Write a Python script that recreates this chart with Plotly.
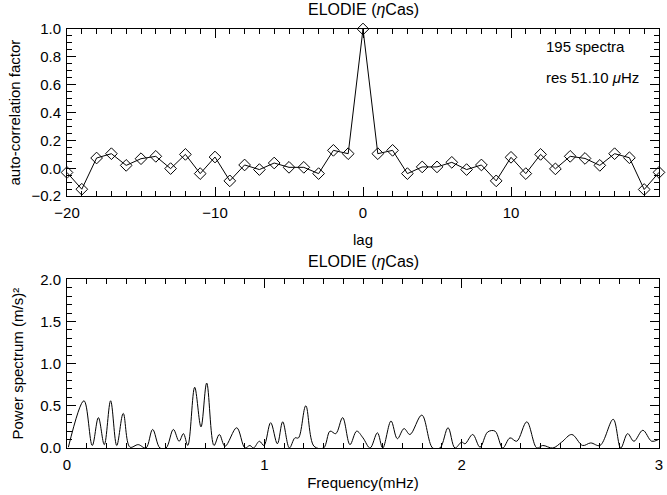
import plotly.graph_objects as go

# ---- Data: auto-correlation ----
lags = list(range(-20, 21))
acf = [-0.03, -0.15, 0.074, 0.105, 0.021, 0.069, 0.086, -0.002, 0.10, -0.038,
       0.081, -0.09, 0.024, -0.009, 0.038, 0.007, 0.007, -0.038, 0.129, 0.105,
       1.0,
       0.105, 0.129, -0.038, 0.01, 0.01, 0.043, -0.009, 0.024, -0.09, 0.079,
       -0.038, 0.10, -0.004, 0.086, 0.071, 0.021, 0.105, 0.076, -0.152, -0.029]

# ---- Data: power spectrum (peaks and troughs) ----
freq = [0.007, 0.086, 0.128, 0.159, 0.189, 0.221, 0.252, 0.285, 0.319, 0.361,
        0.40, 0.434, 0.471, 0.502, 0.539, 0.568, 0.59, 0.612, 0.647, 0.679,
        0.708, 0.745, 0.772, 0.801, 0.86, 0.902, 0.927, 0.945, 0.975, 0.998,
        1.032, 1.066, 1.093, 1.127, 1.155, 1.173, 1.21, 1.252, 1.30, 1.333,
        1.362, 1.397, 1.434, 1.468, 1.50, 1.536, 1.573, 1.60, 1.642, 1.674,
        1.708, 1.738, 1.798, 1.853, 1.89, 1.931, 1.966, 2.0, 2.017, 2.056,
        2.093, 2.132, 2.169, 2.208, 2.245, 2.279, 2.33, 2.381, 2.411, 2.462,
        2.507, 2.558, 2.613, 2.654, 2.701, 2.768, 2.806, 2.841, 2.873, 2.918,
        2.963, 2.997]
power = [0.01, 0.56, 0.03, 0.36, 0.04, 0.56, 0.03, 0.41, 0.01, 0.04,
         0.0, 0.22, 0.0, 0.0, 0.22, 0.08, 0.17, 0.03, 0.72, 0.25,
         0.77, 0.03, 0.16, 0.02, 0.24, 0.0, 0.03, 0.0, 0.08, 0.03,
         0.30, 0.05, 0.31, 0.0, 0.12, 0.12, 0.50, 0.02, 0.0, 0.20,
         0.17, 0.36, 0.04, 0.20, 0.12, 0.0, 0.18, 0.0, 0.32, 0.11,
         0.23, 0.16, 0.39, 0.0, 0.0, 0.24, 0.0, 0.07, 0.05, 0.16,
         0.01, 0.19, 0.20, 0.0, 0.12, 0.08, 0.31, 0.0, 0.03, 0.0,
         0.07, 0.16, 0.03, 0.06, 0.03, 0.34, 0.0, 0.17, 0.08, 0.21,
         0.08, 0.10]

FONT = "Liberation Sans"
FS = 15

fig = go.Figure()
fig.add_trace(go.Scatter(x=lags, y=acf, mode="lines+markers",
                         line=dict(color="black", width=1),
                         marker=dict(symbol="diamond-open", size=9,
                                     color="black", line=dict(width=1, color="black")),
                         xaxis="x", yaxis="y", showlegend=False, cliponaxis=False))
fig.add_trace(go.Scatter(x=freq, y=power, mode="lines",
                         line=dict(color="black", width=1, shape="spline", smoothing=1.0),
                         xaxis="x2", yaxis="y2", showlegend=False))

axis_common = dict(showline=True, linecolor="black", linewidth=1, mirror="allticks",
                   ticks="inside", ticklen=9, tickwidth=1, tickcolor="black",
                   showgrid=False, zeroline=False, automargin=False,
                   tickfont=dict(family=FONT, size=FS, color="black"))

fig.update_layout(
    width=667, height=495,
    margin=dict(l=67, r=8, t=29, b=47),
    paper_bgcolor="white", plot_bgcolor="white",
    font=dict(family=FONT, size=FS, color="black"),
    xaxis=dict(domain=[0, 1], range=[-20, 20], anchor="y",
               tickvals=[-20, -10, 0, 10, 20], ticklabelstandoff=3,
               minor=dict(dtick=1, ticks="inside", ticklen=5, tickcolor="black"),
               title=dict(text="lag", standoff=14, font=dict(size=FS)),
               **axis_common),
    yaxis=dict(domain=[0.601, 1.0], range=[-0.2, 1.0], anchor="x",
               tickvals=[-0.2, 0.0, 0.2, 0.4, 0.6, 0.8, 1.0], tickformat=".1f",
               ticklabelstandoff=2,
               minor=dict(dtick=0.05, ticks="inside", ticklen=5, tickcolor="black"),
               title=dict(text="auto-correlation factor", standoff=7, font=dict(size=FS)),
               **axis_common),
    xaxis2=dict(domain=[0, 1], range=[0, 3], anchor="y2",
                tickvals=[0, 1, 2, 3], ticklabelstandoff=3,
                minor=dict(dtick=0.1, ticks="inside", ticklen=5, tickcolor="black"),
                title=dict(text="Frequency(mHz)", standoff=5, font=dict(size=FS)),
                **axis_common),
    yaxis2=dict(domain=[0, 0.4026], range=[0, 2.0], anchor="x2",
                tickvals=[0, 0.5, 1.0, 1.5, 2.0], tickformat=".1f",
                ticklabelstandoff=2,
                minor=dict(dtick=0.1, ticks="inside", ticklen=5, tickcolor="black"),
                title=dict(text="Power spectrum (m/s)²", standoff=12, font=dict(size=FS)),
                **axis_common),
    annotations=[
        dict(text="ELODIE (<i>η</i>Cas)", xref="paper", yref="paper", x=0.5, y=1.0,
             yshift=9, xanchor="center", yanchor="bottom", showarrow=False,
             font=dict(family=FONT, size=16)),
        dict(text="ELODIE (<i>η</i>Cas)", xref="paper", yref="paper", x=0.5, y=0.4026,
             yshift=7, xanchor="center", yanchor="bottom", showarrow=False,
             font=dict(family=FONT, size=16)),
        dict(text="195 spectra", xref="paper", yref="paper", x=0.805, y=1.0,
             yshift=-17, xanchor="left", yanchor="middle", showarrow=False,
             font=dict(family=FONT, size=FS)),
        dict(text="res 51.10 <i>μ</i>Hz", xref="paper", yref="paper", x=0.805, y=1.0,
             yshift=-48, xanchor="left", yanchor="middle", showarrow=False,
             font=dict(family=FONT, size=FS)),
    ],
)

fig.write_html("out.html", config={"displayModeBar": False},
               post_script="document.body.style.margin='0';document.body.style.overflow='hidden';")
